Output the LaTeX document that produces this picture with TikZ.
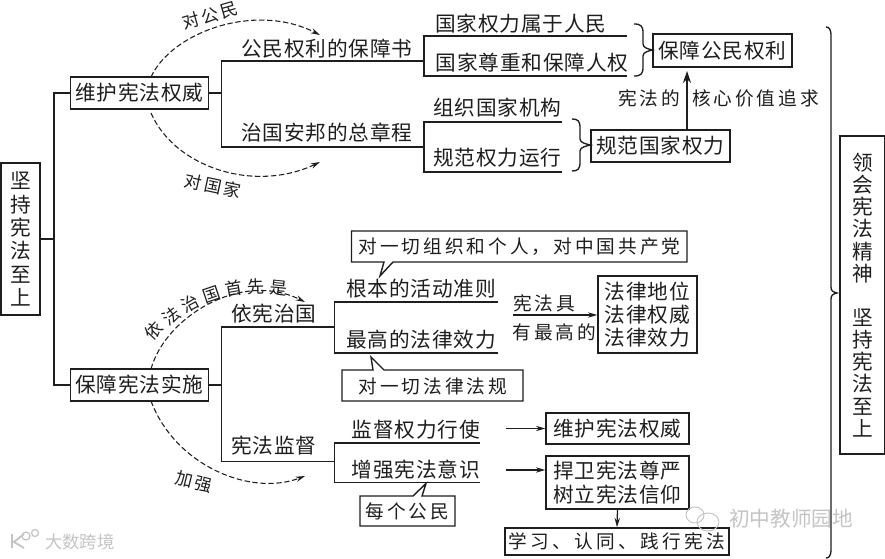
\documentclass[tikz,border=0pt]{standalone}
\usepackage{fontspec}
\usetikzlibrary{arrows.meta,decorations.text}
\newfontfamily\cjk[LetterSpace=4]{Noto Sans CJK SC}
\newfontfamily\cjkw[LetterSpace=16]{Noto Sans CJK SC}
\newfontfamily\cjkx[LetterSpace=18]{Noto Sans CJK SC}
\newfontfamily\cjkn{Noto Sans CJK SC}
\definecolor{ink}{HTML}{1E1E1E}
\definecolor{wm}{HTML}{C4C4C4}
\def\p{0.75pt}
\newcommand{\curly}[6]{% x-open, x-mid, x-tip, y-top, y-tip, y-bottom
  \draw[lin] (#1,#4) .. controls (#2-2,#4) and (#2,#4+2) .. (#2,#4+9)
    -- (#2,#5-6) .. controls (#2,#5-2) and (#3-4,#5-1) .. (#3,#5)
    .. controls (#3-4,#5+1) and (#2,#5+2) .. (#2,#5+6)
    -- (#2,#6-9) .. controls (#2,#6-2) and (#2-2,#6) .. (#1,#6);}
\tikzset{
  lin/.style={draw=ink,line width=1pt},
  dsh/.style={draw=ink,line width=0.8pt,dash pattern=on 4pt off 2pt,-{Stealth[length=7pt,width=4pt]}},
  arr/.style={draw=ink,line width=0.95pt,-{Stealth[length=7pt,width=4pt]}},
  arrb/.style={draw=ink,line width=0.95pt,-{Stealth[length=9pt,width=6pt]}},
  txt/.style={inner sep=0pt,text=ink,font=\fontsize{15.5}{18}\selectfont\cjk},
  lbl/.style={inner sep=0pt,text=ink,font=\fontsize{14}{17}\selectfont\cjkw},
  boxn/.style={draw=ink,line width=1.1pt,inner sep=0pt,text=ink,align=center,font=\fontsize{15.5}{18}\selectfont\cjk},
  callout/.style={draw=ink,fill=white,line width=1.05pt,line join=miter},
  wmark/.style={inner sep=0pt,text=wm,font=\fontsize{15.5}{18}\selectfont\cjkn},
}
\begin{document}
\begin{tikzpicture}[x=0.75pt,y=-0.75pt]
\useasboundingbox (0,0) rectangle (885,559);
\fill[white] (0,0) rectangle (885,559);

% boxes
\node[boxn,minimum width=39*\p,minimum height=152*\p,font=\fontsize{15.5}{17.5}\selectfont\cjkn] (root) at (20.5,239) {坚\\持\\宪\\法\\至\\上};
\node[boxn,minimum width=138.5*\p,minimum height=32*\p] (wei) at (139.5,93) {维护宪法权威};
\node[boxn,minimum width=138.5*\p,minimum height=32*\p] (bao) at (139.5,385) {保障宪法实施};
\node[boxn,minimum width=139*\p,minimum height=33*\p] (bzgm) at (722.5,50.5) {保障公民权利};
\node[boxn,minimum width=139*\p,minimum height=32*\p] (gfgj) at (660.5,146) {规范国家权力};
\node[boxn,minimum width=99*\p,minimum height=77*\p,font=\fontsize{15.5}{17.5}\selectfont\cjk] (fl) at (647.5,314.5) {法律地位\\法律权威\\法律效力};
\node[boxn,minimum width=143*\p,minimum height=31*\p] (whxf) at (617.5,428.5) {维护宪法权威};
\node[boxn,minimum width=143*\p,minimum height=53*\p,font=\fontsize{15.5}{18}\selectfont\cjk] (hw) at (617.5,482.5) {捍卫宪法尊严\\树立宪法信仰};
\node[boxn,minimum width=224*\p,minimum height=27*\p,font=\fontsize{14}{17}\selectfont\cjkx] (xx) at (617,541.5) {学习、认同、践行宪法};
\node[boxn,minimum width=45*\p,minimum height=318*\p,font=\fontsize{15.5}{16.6}\selectfont\cjkn] (side) at (862.5,295) {领\\会\\宪\\法\\精\\神\\[16.6pt]坚\\持\\宪\\法\\至\\上};

% text labels
\node[txt] (t1) at (327,49) {公民权利的保障书};
\node[txt] (t2) at (327,133) {治国安邦的总章程};
\node[txt] (t3) at (521,24) {国家权力属于人民};
\node[txt] (t4) at (532,63) {国家尊重和保障人权};
\node[txt] (t5) at (497.5,108) {组织国家机构};
\node[txt] (t6) at (497.5,158) {规范权力运行};
\node[txt] (t7) at (274,314) {依宪治国};
\node[txt] (t8) at (274,446) {宪法监督};
\node[txt] (t9) at (421,289) {根本的活动准则};
\node[txt] (t10) at (421,340) {最高的法律效力};
\node[txt] (t11) at (416,430) {监督权力行使};
\node[txt] (t12) at (416,470) {增强宪法意识};
\node[lbl] (l1) at (649,98) {宪法的};
\node[lbl] (l2) at (755.5,98) {核心价值追求};
\node[lbl] (l3) at (544,303) {宪法具};
\node[lbl] (l4) at (554.5,332) {有最高的};

% curved labels
\node[lbl,rotate=16,font=\fontsize{13}{16}\selectfont\cjkw] (l5) at (210,15.5) {对公民};
\node[lbl,rotate=-12,font=\fontsize{13}{16}\selectfont\cjkw] (l6) at (213,186) {对国家};
\node[lbl,rotate=-14,font=\fontsize{13}{16}\selectfont\cjkw] (l7) at (194,482) {加强};
\path[decorate,decoration={text along path,text align={fit to path},
  text={|\fontsize{13}{16}\selectfont\cjkn\color{ink}|依法治国首先是}}]
  (153,342) .. controls (180,309) and (228,286) .. (287,295);

% spine
\coordinate (j0) at (54,239);
\draw[lin] (root.east |- j0) -- (j0);
\draw[lin] (wei.west) -| (j0) |- (bao.west);

% upper branch
\coordinate (j1) at (221.5,93);
\coordinate (b1) at (424,61);
\coordinate (b2) at (424,147);
\coordinate (u3) at (627,36);
\coordinate (u4) at (627,76);
\coordinate (u5) at (562,122);
\coordinate (u6) at (562,172);
\draw[lin] (wei.east) -- (j1);
\draw[lin] (b1) -| (j1) |- (b2);
\draw[lin] (u3) -| (b1) |- (u4);
\draw[lin] (u5) -| (b2) |- (u6);
\curly{634}{643}{652.5}{24}{50}{76}
\curly{572}{580}{590.5}{119}{145}{171}
\coordinate (a1) at (687,71);
\draw[arrb] (gfgj.north -| a1) -- (a1);

% lower branch
\coordinate (j2) at (221.5,385);
\coordinate (b3) at (334.5,327);
\coordinate (b4) at (334.5,461.5);
\coordinate (u9) at (498,302);
\coordinate (u10) at (498,353);
\coordinate (u11) at (480,443);
\coordinate (u12) at (480,482.5);
\draw[lin] (bao.east) -- (j2);
\draw[lin] (b3) -| (j2) |- (b4);
\draw[lin] (u9) -| (b3) |- (u10);
\draw[lin] (u11) -| (b4) |- (u12);
\coordinate (s1) at (513,315);
\coordinate (s2) at (506,428.5);
\coordinate (s3) at (506,470);
\draw[arr] (s1) -- (fl.west |- s1);
\draw[arr] (s2) -- (whxf.west |- s2);
\draw[arr] (s3) -- (hw.west |- s3);
\draw[arr] (hw.south) -- (xx.north);

% large brace
\curly{826}{831}{837}{27}{293}{558}

% callouts
\draw[callout] (351.5,231) -- (687,231) -- (687,262) -- (393,262) -- (380,276) -- (384,262) -- (351.5,262) -- cycle;
\node[lbl] (c1) at (519.5,246.5) {对一切组织和个人，对中国共产党};
\draw[callout] (342,370) -- (373,370) -- (371,357) -- (384,370) -- (523,370) -- (523,401) -- (342,401) -- cycle;
\node[lbl] (c2) at (433,386) {对一切法律法规};
\draw[callout] (360,496) -- (413,496) -- (426,483.5) -- (422,496) -- (455,496) -- (455,526) -- (360,526) -- cycle;
\node[lbl] (c3) at (407.5,511) {每个公民};

% dashed curved arrows
\draw[dsh] (151,77) .. controls (172,32) and (255,2) .. (320,35);
\draw[dsh] (151,113) .. controls (175,168) and (255,193) .. (320,162);
\draw[dsh] (151,369) .. controls (165,318) and (240,270) .. (305,302);
\draw[dsh] (151,401) .. controls (175,465) and (250,497) .. (305,476);

% watermarks
\node[wmark] (w1) at (791,519) {初中教师园地};
\node[wmark,font=\fontsize{13}{15}\selectfont\cjkn] (w2) at (80,542) {大数跨境};
\draw[wm,line width=0.7pt] (695,515) ellipse (9 and 8);
\draw[wm,line width=0.7pt] (708,522) ellipse (11 and 9);
\draw[wm,line width=1.4pt] (12,534) -- (12,548) (24,534) -- (14,542) -- (24,548);
\draw[wm,line width=0.9pt] (26,536) circle (4) (35,533) circle (3.5);
\end{tikzpicture}
\end{document}
